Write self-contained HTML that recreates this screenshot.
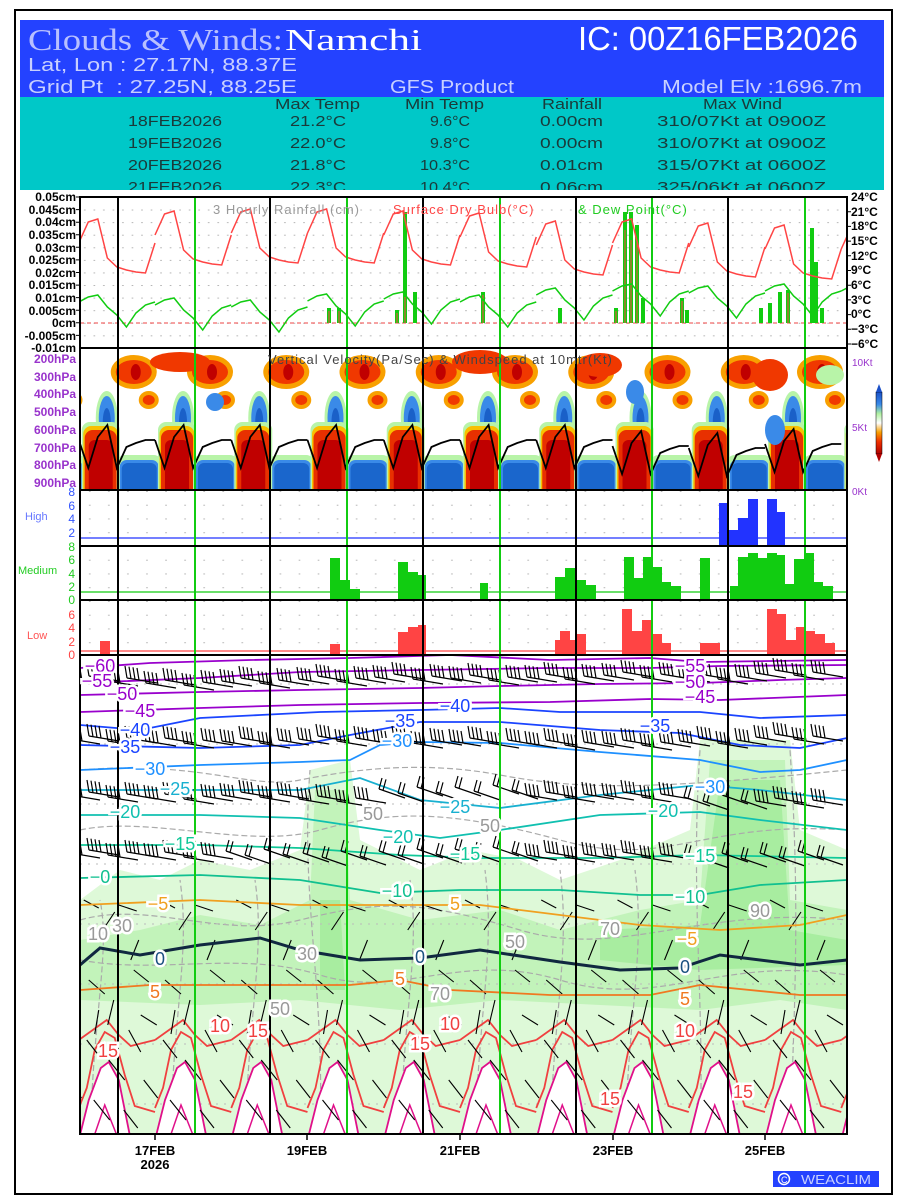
<!DOCTYPE html>
<html><head><meta charset="utf-8">
<style>
body{margin:0;background:#fff;width:900px;height:1200px;overflow:hidden}
svg{display:block}
text{font-family:"Liberation Sans",sans-serif}
.cl text{font-size:18px;text-anchor:middle;stroke:#fff;stroke-width:5px;paint-order:stroke}
</style></head><body>
<svg width="900" height="1200" xmlns="http://www.w3.org/2000/svg" xmlns:xlink="http://www.w3.org/1999/xlink">
<defs>
<clipPath id="cR"><rect x="80" y="197" width="767" height="151"/></clipPath>
<clipPath id="cV"><rect x="80" y="348" width="767" height="142"/></clipPath>
<clipPath id="cM"><rect x="80" y="655" width="767" height="479"/></clipPath>
<pattern id="dR" x="80" y="197" width="9.53" height="12.58" patternUnits="userSpaceOnUse"><rect x="4" y="-0.7" width="1.6" height="1.6" fill="#aaa"/></pattern>
<pattern id="dC" x="80" y="491" width="19.06" height="13.75" patternUnits="userSpaceOnUse"><rect x="9" y="-0.7" width="1.6" height="1.6" fill="#aaa"/></pattern>
<linearGradient id="cb" x1="0" y1="0" x2="0" y2="1">
<stop offset="0" stop-color="#1a50c8"/><stop offset="0.2" stop-color="#3a8ae8"/><stop offset="0.35" stop-color="#b0f0a0"/><stop offset="0.5" stop-color="#fff"/><stop offset="0.65" stop-color="#f8a000"/><stop offset="0.8" stop-color="#f03000"/><stop offset="1" stop-color="#b00000"/></linearGradient>
<polyline id="tday" points="0,235 9.53,214 19.06,211 28.6,250 38.1,259 47.7,262 57.2,264 66.7,265 76.25,235" fill="none" stroke="#f44" stroke-width="1.5"/>
<polyline id="dday" points="0,305 9.53,300 19.06,298 28.6,310 38.1,318 47.7,330 57.2,316 66.7,308 76.25,305" fill="none" stroke="#1c1" stroke-width="1.5"/>
<g id="vday">
<ellipse cx="55" cy="372" rx="23" ry="17" fill="#f8a000"/>
<ellipse cx="55" cy="372" rx="18" ry="12" fill="#f03800"/>
<ellipse cx="57" cy="372" rx="5" ry="8" fill="#c00000"/>
<ellipse cx="70" cy="400" rx="10" ry="9" fill="#f8a000"/>
<ellipse cx="70" cy="400" rx="6" ry="5" fill="#f03800"/>
<ellipse cx="28" cy="418" rx="11" ry="27" fill="#b8f4a8"/>
<ellipse cx="28" cy="418" rx="8" ry="22" fill="#3a8ae8"/>
<ellipse cx="28" cy="422" rx="4" ry="14" fill="#1a60c8"/>
<rect x="3" y="422" width="38" height="80" rx="8" fill="#b8f4a8"/>
<rect x="4.5" y="426" width="35" height="80" rx="8" fill="#f8c000"/>
<rect x="6" y="430" width="32" height="80" rx="8" fill="#e83000"/>
<rect x="10" y="440" width="24" height="80" rx="6" fill="#c00000"/>
<rect x="38" y="455" width="45" height="60" rx="8" fill="#b8f4a8"/>
<rect x="41" y="460" width="39" height="60" rx="7" fill="#3a8ae8"/>
<rect x="43" y="463" width="35" height="60" rx="6" fill="#1a66cc"/>
</g>
<polyline id="wday" points="0,440 9.53,468 19.06,437 28.6,425 38.1,468 47.7,447 57.2,443 66.7,440 76.25,440" fill="none" stroke="#000" stroke-width="1.8"/>
<g id="mday">
<polygon points="0,1140 10,1100 22,1068 30,1062 40,1080 52,1140" fill="#fff"/>
<polyline points="0,1040 14,1030 28,1020 40,1035 52,1046 64,1043 76.25,1040" fill="none" stroke="#f04040" stroke-width="1.8"/>
<polyline points="0,1108 8,1088 16,1050 26,1032 36,1038 46,1075 56,1106 76.25,1112" fill="none" stroke="#f04040" stroke-width="1.8"/>
<polyline points="0,1140 10,1100 22,1068 30,1062 40,1080 52,1140" fill="none" stroke="#e0108a" stroke-width="1.8"/>
<polyline points="14,1140 26,1105 40,1140" fill="none" stroke="#e0108a" stroke-width="1.5"/>
<path d="M5,900l15,8M24,930l12,-18M40,905l18,6M60,940l-8,20M10,980l16,14M35,1000l-6,25M55,970l15,12M8,1040l14,18M30,1060l16,20M50,1030l12,22M65,1080l14,18M15,1100l16,20M45,1110l14,18M20,1010l-4,24M62,1015l16,10" stroke="#000" stroke-width="1.1" fill="none"/>
</g>
<path id="B" d="M0,0L-30,-5M-30,-5l-2,-12M-26,-4.3l-2,-12M-22,-3.7l-2,-12M-18,-3l-2,-12" stroke="#000" stroke-width="1.2" fill="none"/>
<path id="B2" d="M0,0L-26,-9M-26,-9l3,-11M-22,-7.6l3,-11" stroke="#000" stroke-width="1.2" fill="none"/>
<g id="brow"><use href="#B" x="0" y="0"/><use href="#B" x="19" y="-3"/><use href="#B" x="38" y="2"/><use href="#B" x="57" y="-1"/></g>
<g id="brow2"><use href="#B2" x="0" y="0"/><use href="#B2" x="19" y="4"/><use href="#B2" x="38" y="-2"/><use href="#B2" x="57" y="3"/></g>
</defs>
<rect x="15" y="10" width="877" height="1184" fill="#fff" stroke="#000" stroke-width="2"/>
<rect x="20" y="20" width="864" height="78" fill="#2442ff"/>
<rect x="20" y="97" width="864" height="93" fill="#00c8c8"/>
<text x="28" y="50" style="font-family:'Liberation Serif',serif" font-size="31" fill="#b8c0ff" textLength="255" lengthAdjust="spacingAndGlyphs">Clouds &amp; Winds:</text>
<text x="285" y="50" style="font-family:'Liberation Serif',serif" font-size="31" fill="#fff" textLength="137" lengthAdjust="spacingAndGlyphs">Namchi</text>
<text x="578" y="50" font-size="33" fill="#fff" textLength="280" lengthAdjust="spacingAndGlyphs">IC: 00Z16FEB2026</text>
<text x="28" y="71" font-size="18" fill="#c8d0ff" textLength="269" lengthAdjust="spacingAndGlyphs">Lat, Lon : 27.17N, 88.37E</text>
<text x="28" y="93" font-size="18" fill="#c8d0ff" textLength="269" lengthAdjust="spacingAndGlyphs" xml:space="preserve">Grid Pt  : 27.25N, 88.25E</text>
<text x="390" y="93" font-size="18" fill="#c8d0ff" textLength="124" lengthAdjust="spacingAndGlyphs">GFS Product</text>
<text x="662" y="93" font-size="18" fill="#c8d0ff" textLength="200" lengthAdjust="spacingAndGlyphs">Model Elv :1696.7m</text>
<g font-size="15" fill="#1a3a3a">
<text x="275" y="109" textLength="85" lengthAdjust="spacingAndGlyphs">Max Temp</text>
<text x="405" y="109" textLength="79" lengthAdjust="spacingAndGlyphs">Min Temp</text>
<text x="542" y="109" textLength="60" lengthAdjust="spacingAndGlyphs">Rainfall</text>
<text x="703" y="109" textLength="79" lengthAdjust="spacingAndGlyphs">Max Wind</text>
<text x="128" y="126" textLength="94" lengthAdjust="spacingAndGlyphs">18FEB2026</text>
<text x="128" y="148" textLength="94" lengthAdjust="spacingAndGlyphs">19FEB2026</text>
<text x="128" y="170" textLength="94" lengthAdjust="spacingAndGlyphs">20FEB2026</text>
<text x="128" y="192" textLength="94" lengthAdjust="spacingAndGlyphs">21FEB2026</text>
<text x="290" y="126" textLength="56" lengthAdjust="spacingAndGlyphs">21.2°C</text>
<text x="290" y="148" textLength="56" lengthAdjust="spacingAndGlyphs">22.0°C</text>
<text x="290" y="170" textLength="56" lengthAdjust="spacingAndGlyphs">21.8°C</text>
<text x="290" y="192" textLength="56" lengthAdjust="spacingAndGlyphs">22.3°C</text>
<text x="430" y="126" textLength="40" lengthAdjust="spacingAndGlyphs">9.6°C</text>
<text x="430" y="148" textLength="40" lengthAdjust="spacingAndGlyphs">9.8°C</text>
<text x="420" y="170" textLength="50" lengthAdjust="spacingAndGlyphs">10.3°C</text>
<text x="420" y="192" textLength="50" lengthAdjust="spacingAndGlyphs">10.4°C</text>
<text x="540" y="126" textLength="63" lengthAdjust="spacingAndGlyphs">0.00cm</text>
<text x="540" y="148" textLength="63" lengthAdjust="spacingAndGlyphs">0.00cm</text>
<text x="540" y="170" textLength="63" lengthAdjust="spacingAndGlyphs">0.01cm</text>
<text x="540" y="192" textLength="63" lengthAdjust="spacingAndGlyphs">0.06cm</text>
<text x="657" y="126" textLength="169" lengthAdjust="spacingAndGlyphs">310/07Kt at 0900Z</text>
<text x="657" y="148" textLength="169" lengthAdjust="spacingAndGlyphs">310/07Kt at 0900Z</text>
<text x="657" y="170" textLength="169" lengthAdjust="spacingAndGlyphs">315/07Kt at 0600Z</text>
<text x="657" y="192" textLength="169" lengthAdjust="spacingAndGlyphs">325/06Kt at 0600Z</text>
</g>
<rect x="20" y="190" width="864" height="7" fill="#fff"/>

<rect x="80" y="197" width="767" height="151" fill="url(#dR)"/>
<rect x="80" y="491" width="767" height="164" fill="url(#dC)"/>

<!-- RAIN -->
<g clip-path="url(#cR)">
<line x1="80" y1="323" x2="847" y2="323" stroke="#e44" stroke-dasharray="4,3"/>
<g fill="#1c1">
<rect x="327" y="308" width="4" height="15"/><rect x="337" y="308" width="4" height="15"/><rect x="395" y="310" width="4" height="13"/><rect x="403" y="212" width="4" height="111"/><rect x="413" y="292" width="4" height="31"/><rect x="481" y="292" width="4" height="31"/><rect x="558" y="308" width="4" height="15"/><rect x="614" y="308" width="4" height="15"/><rect x="623" y="212" width="4" height="111"/><rect x="629" y="212" width="4" height="111"/><rect x="635" y="225" width="4" height="98"/><rect x="641" y="298" width="4" height="25"/><rect x="680" y="298" width="4" height="25"/><rect x="685" y="310" width="4" height="13"/><rect x="759" y="308" width="4" height="15"/><rect x="768" y="303" width="4" height="20"/><rect x="778" y="292" width="4" height="31"/><rect x="786" y="290" width="4" height="33"/><rect x="810" y="228" width="4" height="95"/><rect x="814" y="262" width="4" height="61"/><rect x="820" y="308" width="4" height="15"/>
</g>
<g fill="#f44"><rect x="328.5" y="311" width="1" height="12"/><rect x="338.5" y="311" width="1" height="12"/><rect x="396.5" y="313" width="1" height="10"/><rect x="404.5" y="297" width="1" height="26"/><rect x="482.5" y="295" width="1" height="28"/><rect x="615.5" y="311" width="1" height="12"/><rect x="624.5" y="230" width="1" height="93"/><rect x="630.5" y="240" width="1" height="83"/><rect x="636.5" y="240" width="1" height="83"/><rect x="681.5" y="301" width="1" height="22"/><rect x="787.5" y="293" width="1" height="30"/></g>
<use href="#tday" x="78.75" y="8"/><use href="#tday" x="155" y="0"/><use href="#tday" x="231.25" y="-2"/><use href="#tday" x="307.5" y="-2"/><use href="#tday" x="383.75" y="0"/><use href="#tday" x="460" y="2"/><use href="#tday" x="536.25" y="10"/><use href="#tday" x="612.5" y="8"/><use href="#tday" x="688.75" y="12"/><use href="#tday" x="765" y="14"/><use href="#tday" x="841.25" y="14"/>
<use href="#dday" x="78.75" y="-3"/><use href="#dday" x="155" y="0"/><use href="#dday" x="231.25" y="2"/><use href="#dday" x="307.5" y="-4"/><use href="#dday" x="383.75" y="-6"/><use href="#dday" x="460" y="-3"/><use href="#dday" x="536.25" y="-10"/><use href="#dday" x="612.5" y="-14"/><use href="#dday" x="688.75" y="-12"/><use href="#dday" x="765" y="-14"/><use href="#dday" x="841.25" y="-14"/>
</g>

<!-- VV -->
<g clip-path="url(#cV)">
<use href="#vday" x="2.5"/><use href="#vday" x="78.75"/><use href="#vday" x="155"/><use href="#vday" x="231.25"/><use href="#vday" x="307.5"/><use href="#vday" x="383.75"/><use href="#vday" x="460"/><use href="#vday" x="536.25"/><use href="#vday" x="612.5"/><use href="#vday" x="688.75"/><use href="#vday" x="765"/><use href="#vday" x="841.25"/>
<ellipse cx="180" cy="362" rx="30" ry="10" fill="#f03800"/><ellipse cx="480" cy="362" rx="28" ry="12" fill="#f03800"/><ellipse cx="600" cy="365" rx="22" ry="12" fill="#f03800"/><ellipse cx="770" cy="375" rx="18" ry="16" fill="#f03800"/><ellipse cx="830" cy="375" rx="14" ry="10" fill="#b8f4a8"/>
<ellipse cx="215" cy="402" rx="9" ry="9" fill="#3a8ae8"/><ellipse cx="635" cy="392" rx="9" ry="12" fill="#3a8ae8"/><ellipse cx="775" cy="430" rx="10" ry="15" fill="#3a8ae8"/>
<use href="#wday" x="78.75"/><use href="#wday" x="155"/><use href="#wday" x="231.25"/><use href="#wday" x="307.5"/><use href="#wday" x="383.75"/><use href="#wday" x="460"/><use href="#wday" x="536.25"/><use href="#wday" x="612.5" y="6"/><use href="#wday" x="688.75" y="8"/><use href="#wday" x="765" y="4"/>
</g>

<!-- CLOUDS -->
<g>
<line x1="80" y1="538" x2="847" y2="538" stroke="#2233ff" stroke-width="1.2"/>
<g fill="#2233ff"><rect x="719" y="503" width="10" height="43"/><rect x="729" y="530" width="10" height="16"/><rect x="738" y="518" width="10" height="28"/><rect x="748" y="499" width="10" height="47"/><rect x="767" y="499" width="10" height="47"/><rect x="777" y="512" width="8" height="34"/></g>
<line x1="80" y1="592" x2="847" y2="592" stroke="#11cc11" stroke-width="1.2"/>
<g fill="#11cc11"><rect x="330" y="558" width="10" height="42"/><rect x="340" y="580" width="10" height="20"/><rect x="350" y="589" width="10" height="11"/><rect x="398" y="562" width="10" height="38"/><rect x="408" y="572" width="10" height="28"/><rect x="418" y="575" width="8" height="25"/><rect x="480" y="583" width="8" height="17"/><rect x="555" y="577" width="10" height="23"/><rect x="565" y="568" width="10" height="32"/><rect x="575" y="580" width="11" height="20"/><rect x="586" y="585" width="10" height="15"/><rect x="624" y="557" width="10" height="43"/><rect x="633" y="578" width="10" height="22"/><rect x="643" y="557" width="10" height="43"/><rect x="652" y="567" width="10" height="33"/><rect x="661" y="582" width="10" height="18"/><rect x="671" y="586" width="10" height="14"/><rect x="700" y="558" width="10" height="42"/><rect x="730" y="586" width="8" height="14"/><rect x="738" y="557" width="10" height="43"/><rect x="748" y="553" width="10" height="47"/><rect x="757" y="558" width="10" height="42"/><rect x="767" y="553" width="10" height="47"/><rect x="777" y="555" width="8" height="45"/><rect x="785" y="584" width="9" height="16"/><rect x="794" y="559" width="10" height="41"/><rect x="804" y="553" width="10" height="47"/><rect x="813" y="582" width="10" height="18"/><rect x="823" y="586" width="10" height="14"/></g>
<line x1="80" y1="651" x2="847" y2="651" stroke="#f44" stroke-width="1.2"/>
<g fill="#f44"><rect x="100" y="641" width="10" height="14"/><rect x="330" y="644" width="10" height="11"/><rect x="398" y="632" width="10" height="23"/><rect x="408" y="627" width="10" height="28"/><rect x="418" y="625" width="8" height="30"/><rect x="555" y="640" width="5" height="15"/><rect x="560" y="631" width="10" height="24"/><rect x="570" y="640" width="6" height="15"/><rect x="576" y="634" width="10" height="21"/><rect x="622" y="609" width="10" height="46"/><rect x="632" y="631" width="10" height="24"/><rect x="642" y="620" width="10" height="35"/><rect x="652" y="634" width="10" height="21"/><rect x="661" y="643" width="10" height="12"/><rect x="700" y="643" width="20" height="12"/><rect x="767" y="609" width="10" height="46"/><rect x="777" y="614" width="9" height="41"/><rect x="786" y="640" width="10" height="15"/><rect x="796" y="627" width="9" height="28"/><rect x="805" y="631" width="10" height="24"/><rect x="815" y="634" width="10" height="21"/><rect x="825" y="643" width="10" height="12"/></g>
</g>

<!-- MAIN -->
<g clip-path="url(#cM)">
<polygon points="80,900 120,870 160,880 200,860 250,870 300,850 310,770 350,760 360,840 420,870 470,850 520,860 560,880 620,860 690,830 700,740 790,740 800,830 847,850 847,1134 80,1134" fill="#def9d8"/>
<polygon points="80,940 140,930 200,915 260,925 310,900 315,790 345,790 350,900 420,920 500,910 560,930 640,910 700,900 710,760 785,760 790,900 847,910 847,1010 780,1000 700,1010 600,1005 500,1000 400,1010 300,1000 200,1005 80,1000" fill="#c2f3ba"/>
<polygon points="600,930 700,925 720,780 780,780 790,930 847,940 847,965 700,970 600,960" fill="#a8eda0"/>
<polygon points="320,900 340,900 345,990 320,990" fill="#a8eda0"/>
<g fill="none" stroke="#aaa" stroke-width="1.2" stroke-dasharray="6,3">
<path d="M80,770 C200,760 250,790 300,780 S420,760 500,775 S650,790 847,770"/>
<path d="M80,830 C150,815 250,850 320,830 S450,810 560,840 S700,820 847,830"/>
<path d="M80,920 C150,900 220,940 300,920 S420,900 520,930 S700,905 847,920"/>
<path d="M80,960 C160,975 240,950 320,975 S460,950 560,980 S720,955 847,975"/>
<path d="M90,1134 C95,1000 110,950 100,900 M170,1134 C175,1000 190,950 180,880 M245,1134 C250,1000 265,950 255,880 M320,1134 C325,980 300,900 310,770 M400,1134 C405,1000 420,950 410,880 M475,1134 C480,1000 495,950 485,870 M550,1134 C555,1000 570,950 560,870 M625,1134 C630,1000 645,950 635,870 M700,1134 C705,1000 690,900 700,750 M790,1134 C795,1000 800,900 790,750"/>
</g>
<g stroke-dasharray="2,6" stroke="#bbb"><line x1="80" y1="684" x2="847" y2="684"/><line x1="80" y1="744" x2="847" y2="744"/><line x1="80" y1="804" x2="847" y2="804"/><line x1="80" y1="864" x2="847" y2="864"/><line x1="80" y1="924" x2="847" y2="924"/><line x1="80" y1="984" x2="847" y2="984"/><line x1="80" y1="1044" x2="847" y2="1044"/><line x1="80" y1="1104" x2="847" y2="1104"/></g>
<use href="#mday" x="2.5"/><use href="#mday" x="78.75"/><use href="#mday" x="155"/><use href="#mday" x="231.25"/><use href="#mday" x="307.5"/><use href="#mday" x="383.75"/><use href="#mday" x="460"/><use href="#mday" x="536.25"/><use href="#mday" x="612.5"/><use href="#mday" x="688.75"/><use href="#mday" x="765"/><use href="#mday" x="841.25"/>
<g fill="none" stroke-width="1.8">
<polyline stroke="#9900cc" points="80,668 150,663 250,660 350,658 450,655 550,660 650,658 700,662 847,660"/>
<polyline stroke="#9900cc" points="80,683 200,678 300,672 420,670 550,668 650,668 720,666 847,665"/>
<polyline stroke="#9900cc" points="80,695 200,692 300,690 420,688 500,686 600,684 700,683 780,680 847,678"/>
<polyline stroke="#9900cc" points="80,712 200,708 300,705 420,703 550,702 650,699 720,700 847,695"/>
<polyline stroke="#1a44ff" points="80,725 140,730 200,718 260,715 320,712 420,710 500,708 560,712 620,712 700,712 760,718 847,715"/>
<polyline stroke="#1a44ff" points="80,745 200,748 300,745 350,735 420,722 500,722 600,730 680,733 740,745 800,748 847,738"/>
<polyline stroke="#1e90ff" points="80,770 200,765 300,762 350,760 380,745 420,742 500,743 600,752 700,760 760,772 800,770 847,760"/>
<polyline stroke="#18b0d0" points="80,790 200,790 300,790 360,778 420,800 500,808 600,795 700,785 760,790 847,800"/>
<polyline stroke="#10c0b0" points="80,815 200,815 300,818 380,830 440,838 500,830 600,815 700,812 760,820 847,830"/>
<polyline stroke="#10c898" points="80,845 200,845 300,848 400,855 480,858 600,858 700,855 847,858"/>
<polyline stroke="#10c090" points="80,878 200,875 300,880 380,893 460,890 560,890 640,895 700,895 760,885 847,880"/>
<polyline stroke="#f0a020" points="80,905 200,900 300,905 400,905 480,905 560,915 640,925 720,930 800,925 847,915"/>
<polyline stroke="#102840" stroke-width="3" points="80,965 100,948 140,955 200,945 260,938 300,950 360,960 420,958 480,950 560,962 620,970 680,968 720,955 800,965 847,960"/>
<polyline stroke="#f07820" points="80,990 150,985 250,985 350,985 400,980 450,990 550,995 650,995 700,985 800,995 847,995"/>
</g>
<use href="#brow" x="100" y="684"/><use href="#brow" x="176" y="688"/><use href="#brow" x="252" y="686"/><use href="#brow" x="329" y="684"/><use href="#brow" x="405" y="682"/><use href="#brow" x="481" y="683"/><use href="#brow" x="557" y="682"/><use href="#brow" x="634" y="680"/><use href="#brow" x="710" y="682"/><use href="#brow" x="786" y="678"/>
<use href="#brow" x="100" y="744"/><use href="#brow" x="176" y="746"/><use href="#brow" x="252" y="746"/><use href="#brow" x="329" y="744"/><use href="#brow" x="405" y="746"/><use href="#brow" x="481" y="746"/><use href="#brow" x="557" y="748"/><use href="#brow" x="634" y="748"/><use href="#brow" x="710" y="746"/><use href="#brow" x="786" y="742"/>
<use href="#brow" x="100" y="800"/><use href="#brow" x="176" y="802"/><use href="#brow" x="252" y="800"/><use href="#brow" x="329" y="804"/><use href="#brow2" x="405" y="798"/><use href="#brow2" x="481" y="796"/><use href="#brow" x="557" y="800"/><use href="#brow" x="634" y="800"/><use href="#brow2" x="710" y="806"/><use href="#brow" x="786" y="806"/>
<use href="#brow" x="100" y="858"/><use href="#brow" x="176" y="860"/><use href="#brow2" x="252" y="860"/><use href="#brow2" x="329" y="862"/><use href="#brow2" x="405" y="860"/><use href="#brow2" x="481" y="858"/><use href="#brow" x="557" y="860"/><use href="#brow" x="634" y="860"/><use href="#brow2" x="710" y="864"/><use href="#brow2" x="786" y="862"/>
</g>

<!-- frames & lines -->
<g stroke="#000" stroke-width="2"><line x1="118" y1="197" x2="118" y2="1134"/><line x1="270" y1="197" x2="270" y2="1134"/><line x1="423" y1="197" x2="423" y2="1134"/><line x1="576" y1="197" x2="576" y2="1134"/><line x1="728" y1="197" x2="728" y2="1134"/></g>
<g stroke="#11cc11" stroke-width="2"><line x1="195" y1="197" x2="195" y2="1134"/><line x1="347" y1="197" x2="347" y2="1134"/><line x1="500" y1="197" x2="500" y2="1134"/><line x1="652" y1="197" x2="652" y2="1134"/><line x1="805" y1="197" x2="805" y2="1134"/></g>
<g fill="none" stroke="#000" stroke-width="2"><rect x="80" y="197" width="767" height="151"/><rect x="80" y="348" width="767" height="142"/><rect x="80" y="490" width="767" height="56"/><rect x="80" y="546" width="767" height="54"/><rect x="80" y="600" width="767" height="55"/><rect x="80" y="655" width="767" height="479"/></g>
<g stroke="#000"><path d="M76,197h4M76,209.6h4M76,222.2h4M76,234.7h4M76,247.3h4M76,259.9h4M76,272.5h4M76,285.1h4M76,297.6h4M76,310.2h4M76,322.8h4M76,335.4h4M847,211.7h4M847,226.4h4M847,241.1h4M847,255.8h4M847,270.5h4M847,285.2h4M847,299.9h4M847,314.6h4M847,329.3h4M847,344h4"/>
<path d="M155,1134v6M307,1134v6M460,1134v6M613,1134v6M765,1134v6" stroke-width="1.5"/></g>

<text x="213" y="214" font-size="13" fill="#999" letter-spacing="1">3 Hourly Rainfall (cm)</text>
<text x="393" y="214" font-size="13" fill="#f44" letter-spacing="1">Surface Dry Bulb(°C)</text>
<text x="578" y="214" font-size="13" fill="#2c2" letter-spacing="1">&amp; Dew Point(°C)</text>
<text x="268" y="364" font-size="13" fill="#444" letter-spacing="1">Vertical Velocity(Pa/Sec) &amp; Windspeed at 10mtr(Kt)</text>

<g font-size="12" font-weight="bold" fill="#000" text-anchor="end">
<text x="76" y="201">0.05cm</text><text x="76" y="214">0.045cm</text><text x="76" y="226">0.04cm</text><text x="76" y="239">0.035cm</text><text x="76" y="252">0.03cm</text><text x="76" y="264">0.025cm</text><text x="76" y="277">0.02cm</text><text x="76" y="289">0.015cm</text><text x="76" y="302">0.01cm</text><text x="76" y="315">0.005cm</text><text x="76" y="327">0cm</text><text x="76" y="340">-0.005cm</text><text x="76" y="352">-0.01cm</text>
</g>
<g font-size="12" font-weight="bold" fill="#000">
<text x="851" y="201">24°C</text><text x="851" y="216">21°C</text><text x="851" y="230">18°C</text><text x="851" y="245">15°C</text><text x="851" y="260">12°C</text><text x="851" y="274">9°C</text><text x="851" y="289">6°C</text><text x="851" y="304">3°C</text><text x="851" y="318">0°C</text><text x="851" y="333">−3°C</text><text x="851" y="348">−6°C</text>
</g>
<g font-size="12" font-weight="bold" fill="#9933cc" text-anchor="end">
<text x="76" y="363">200hPa</text><text x="76" y="381">300hPa</text><text x="76" y="398">400hPa</text><text x="76" y="416">500hPa</text><text x="76" y="434">600hPa</text><text x="76" y="452">700hPa</text><text x="76" y="469">800hPa</text><text x="76" y="487">900hPa</text>
</g>
<g font-size="10" fill="#9933cc"><text x="852" y="366">10Kt</text><text x="852" y="431">5Kt</text><text x="852" y="495">0Kt</text></g>
<rect x="876" y="392" width="6" height="62" fill="url(#cb)" stroke="#000" stroke-width="0.5"/>
<polygon points="876,392 879,384 882,392" fill="#1a50c8"/><polygon points="876,454 879,462 882,454" fill="#b00000"/>

<g font-size="12" text-anchor="end">
<g fill="#3355ff"><text x="75" y="496">8</text><text x="75" y="510">6</text><text x="75" y="523">4</text><text x="75" y="537">2</text></g>
<g fill="#22cc22"><text x="75" y="551">8</text><text x="75" y="564">6</text><text x="75" y="578">4</text><text x="75" y="591">2</text><text x="75" y="604">0</text></g>
<g fill="#ff4444"><text x="75" y="619">6</text><text x="75" y="632">4</text><text x="75" y="646">2</text><text x="75" y="659">0</text></g>
</g>
<text x="25" y="520" font-size="11" fill="#6677ff">High</text>
<text x="18" y="574" font-size="11" fill="#22cc22">Medium</text>
<text x="27" y="639" font-size="11" fill="#ff5555">Low</text>

<g class="cl">
<text x="100" y="672" fill="#9900cc">−60</text><text x="97" y="687" fill="#9900cc">−55</text><text x="122" y="700" fill="#9900cc">−50</text><text x="140" y="717" fill="#9900cc">−45</text><text x="135" y="736" fill="#1a44ff">−40</text><text x="125" y="753" fill="#1a44ff">−35</text><text x="150" y="775" fill="#1e90ff">−30</text><text x="175" y="795" fill="#18b0d0">−25</text><text x="125" y="818" fill="#10c0b0">−20</text><text x="180" y="850" fill="#10c898">−15</text><text x="100" y="883" fill="#10c090">−0</text><text x="158" y="910" fill="#f0a020">−5</text><text x="160" y="965" fill="#1a5080">0</text><text x="155" y="998" fill="#f07820">5</text><text x="220" y="1032" fill="#f04040">10</text><text x="258" y="1037" fill="#f04040">15</text><text x="108" y="1057" fill="#f04040">15</text>
<text x="690" y="672" fill="#9900cc">−55</text><text x="690" y="688" fill="#9900cc">−50</text><text x="700" y="703" fill="#9900cc">−45</text><text x="455" y="712" fill="#1a44ff">−40</text><text x="400" y="727" fill="#1a44ff">−35</text><text x="655" y="732" fill="#1a44ff">−35</text><text x="397" y="747" fill="#1e90ff">−30</text><text x="710" y="793" fill="#1e90ff">−30</text><text x="455" y="813" fill="#18b0d0">−25</text><text x="398" y="843" fill="#10c0b0">−20</text><text x="663" y="817" fill="#10c0b0">−20</text><text x="465" y="860" fill="#10c898">−15</text><text x="700" y="862" fill="#10c898">−15</text><text x="397" y="897" fill="#10c090">−10</text><text x="690" y="903" fill="#10c090">−10</text><text x="455" y="910" fill="#f0a020">5</text><text x="687" y="945" fill="#f0a020">−5</text><text x="420" y="963" fill="#1a5080">0</text><text x="685" y="973" fill="#1a5080">0</text><text x="400" y="985" fill="#f07820">5</text><text x="685" y="1005" fill="#f07820">5</text><text x="450" y="1030" fill="#f04040">10</text><text x="685" y="1037" fill="#f04040">10</text><text x="420" y="1050" fill="#f04040">15</text><text x="610" y="1105" fill="#f04040">15</text><text x="743" y="1098" fill="#f04040">15</text>
<text x="122" y="932" fill="#999">30</text><text x="98" y="940" fill="#999">10</text><text x="280" y="1015" fill="#999">50</text><text x="515" y="948" fill="#999">50</text><text x="610" y="935" fill="#999">70</text><text x="760" y="917" fill="#999">90</text><text x="490" y="832" fill="#999">50</text><text x="307" y="960" fill="#999">30</text><text x="373" y="820" fill="#999">50</text><text x="440" y="1000" fill="#999">70</text>
</g>

<g font-size="13" font-weight="bold" fill="#000" text-anchor="middle">
<text x="155" y="1155">17FEB</text><text x="155" y="1169">2026</text>
<text x="307" y="1155">19FEB</text><text x="460" y="1155">21FEB</text><text x="613" y="1155">23FEB</text><text x="765" y="1155">25FEB</text>
</g>
<rect x="773" y="1171" width="106" height="16" fill="#2442ff"/>
<circle cx="784" cy="1179" r="5.5" fill="none" stroke="#fff" stroke-width="1.5"/>
<text x="781" y="1183" font-size="9" fill="#fff">C</text>
<text x="801" y="1184" font-size="13" fill="#c8d0ff" textLength="70" lengthAdjust="spacingAndGlyphs">WEACLIM</text>
</svg>
</body></html>
